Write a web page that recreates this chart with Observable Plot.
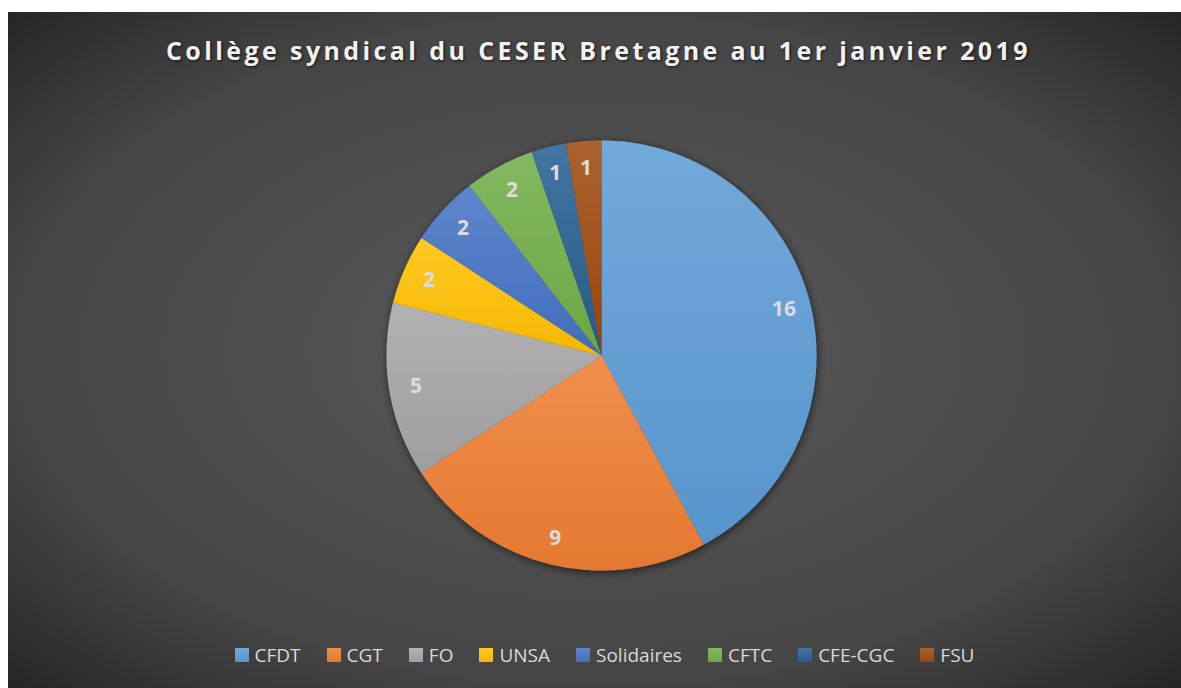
<!DOCTYPE html>
<html>
<head>
<meta charset="utf-8">
<script src="https://cdn.jsdelivr.net/npm/d3@7"></script>
<script src="https://cdn.jsdelivr.net/npm/@observablehq/plot@0.6"></script>
<style>
  html, body { margin: 0; padding: 0; background: #ffffff; }
  #wrap { position: relative; width: 1181px; height: 688px; overflow: hidden; background: #ffffff; }
  #bg { position: absolute; left: 8px; top: 12px; width: 1173px; height: 676px;
        background: radial-gradient(ellipse farthest-corner at 50% 50%, #5a5a5a 0%, #454545 70%, #262626 100%); }
  #title { position: absolute; left: 8px; top: 38px; width: 1181px; text-align: center;
           font-family: "Open Sans", sans-serif; font-weight: 700; font-size: 25px; line-height: 25px;
           letter-spacing: 3.4px; color: #f2f2f2; text-shadow: 1px 1px 3px rgba(0,0,0,0.7); white-space: nowrap; }
  #chart { position: absolute; left: 0; top: 0; }
  #legend { position: absolute; left: 14px; top: 645px; width: 1181px; text-align: center;
            font-family: "Open Sans", sans-serif; font-size: 19px; line-height: 21px; color: #d9d9d9; white-space: nowrap; }
  .item { display: inline-block; margin: 0 13px; }
  .sw { display: inline-block; width: 14px; height: 14px; margin-right: 6px; vertical-align: baseline; }
</style>
</head>
<body>
<div id="wrap">
  <div id="bg"></div>
  <div id="title">Collège syndical du CESER Bretagne au 1er janvier 2019</div>
  <div id="chart"></div>
  <div id="legend"></div>
</div>
<script>
const categories = ["CFDT", "CGT", "FO", "UNSA", "Solidaires", "CFTC", "CFE-CGC", "FSU"];
const values = [16, 9, 5, 2, 2, 2, 1, 1];
const colors = ["#5b9bd5", "#ed7d31", "#a5a5a5", "#ffc000", "#4472c4", "#70ad47", "#255e91", "#9e480e"];

const arcs = d3.pie().sort(null)(values);
const features = arcs.map((a, i) => {
  const ring = [[0, 0]];
  const n = Math.max(8, Math.ceil((a.endAngle - a.startAngle) / 0.01));
  for (let k = 0; k <= n; k++) {
    const t = a.startAngle + (a.endAngle - a.startAngle) * k / n;
    ring.push([Math.sin(t), Math.cos(t)]);
  }
  ring.push([0, 0]);
  return {type: "Feature", properties: {i, name: categories[i]}, geometry: {type: "Polygon", coordinates: [ring]}};
});
const labelR = 0.875;
const labels = arcs.map((a, i) => {
  const m = (a.startAngle + a.endAngle) / 2;
  return {x: labelR * Math.sin(m), y: labelR * Math.cos(m), text: String(values[i])};
});

const cx = 601, cy = 355, R = 215, W = 1181, H = 688;
const chart = Plot.plot({
  width: W, height: H,
  marginLeft: cx - R, marginRight: W - cx - R, marginTop: cy - R, marginBottom: H - cy - R,
  style: {background: "transparent", overflow: "visible"},
  projection: {type: "reflect-y", domain: {type: "Polygon", coordinates: [[[-1, -1], [1, -1], [1, 1], [-1, 1], [-1, -1]]]}},
  color: {type: "identity"},
  marks: [
    Plot.geo(features, {fill: d => `url(#grad${d.properties.i})`, stroke: "none"}),
    Plot.text(labels, {x: "x", y: "y", text: "text", fill: "#dcdcdc", fontSize: 21, fontWeight: "bold",
      fontFamily: "Open Sans, sans-serif"})
  ]
});

// gradients and shadow
const NS = "http://www.w3.org/2000/svg";
const defs = document.createElementNS(NS, "defs");
function mix(c, t, k) {
  const a = d3.rgb(c), b = d3.rgb(t);
  return d3.rgb(a.r + (b.r - a.r) * k, a.g + (b.g - a.g) * k, a.b + (b.b - a.b) * k).formatHex();
}
colors.forEach((c, i) => {
  const g = document.createElementNS(NS, "linearGradient");
  g.setAttribute("id", "grad" + i);
  g.setAttribute("x1", "0"); g.setAttribute("y1", "0"); g.setAttribute("x2", "0"); g.setAttribute("y2", "1");
  [[0, mix(c, "#ffffff", 0.14)], [1, mix(c, "#000000", 0.04)]].forEach(([o, col]) => {
    const s = document.createElementNS(NS, "stop");
    s.setAttribute("offset", o); s.setAttribute("stop-color", col);
    g.appendChild(s);
  });
  defs.appendChild(g);
});
const f = document.createElementNS(NS, "filter");
f.setAttribute("id", "pieShadow");
f.setAttribute("x", "-20%"); f.setAttribute("y", "-20%"); f.setAttribute("width", "140%"); f.setAttribute("height", "140%");
const ds = document.createElementNS(NS, "feDropShadow");
ds.setAttribute("dx", "1"); ds.setAttribute("dy", "2"); ds.setAttribute("stdDeviation", "4");
ds.setAttribute("flood-color", "#000000"); ds.setAttribute("flood-opacity", "0.6");
f.appendChild(ds);
defs.appendChild(f);
chart.insertBefore(defs, chart.firstChild);
const geoG = chart.querySelector('g[aria-label="geo"]');
if (geoG) geoG.setAttribute("filter", "url(#pieShadow)");
document.getElementById("chart").appendChild(chart);

// legend
const legend = document.getElementById("legend");
categories.forEach((name, i) => {
  const it = document.createElement("span");
  it.className = "item";
  const sw = document.createElement("span");
  sw.className = "sw";
  sw.style.background = `linear-gradient(${mix(colors[i], "#ffffff", 0.14)}, ${mix(colors[i], "#000000", 0.04)})`;
  it.appendChild(sw);
  it.appendChild(document.createTextNode(name));
  legend.appendChild(it);
});
</script>
</body>
</html>
